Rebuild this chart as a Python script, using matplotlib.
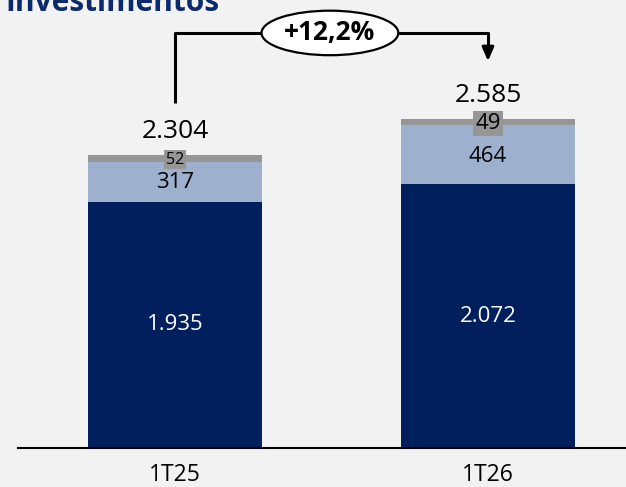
import matplotlib
matplotlib.use("Agg")
import matplotlib.pyplot as plt
from matplotlib.patches import Ellipse
import numpy as np

plt.rcParams['font.family'] = ['Open Sans', 'DejaVu Sans']

# dados (R$ milhões)
periodos = ['1T25', '1T26']
base = [1935, 2072]        # parcela principal (azul escuro)
meio = [317, 464]          # parcela azul claro
topo = [52, 49]            # parcela cinza
totais = [2304, 2585]
variacao = '+12,2%'

fundo = '#f2f2f2'
azul_escuro = '#001f5c'
azul_claro = '#9db0ce'
cinza = '#969696'

fig = plt.figure(figsize=(6.26, 4.87), dpi=100, facecolor=fundo)
ax = fig.add_axes([18/626, 39/487, 608/626, 448/487])
ax.set_facecolor(fundo)

x = np.arange(len(periodos))
larg = 0.556
b = np.array(base)
m = np.array(meio)
t = np.array(topo)
ax.bar(x, b, larg, color=azul_escuro, zorder=2)
ax.bar(x, m, larg, bottom=b, color=azul_claro, zorder=2)
ax.bar(x, t, larg, bottom=b + m, color=cinza, zorder=2)

ax.set_xlim(-0.5016, 1.441)
ax.set_ylim(0, 3522)

# rótulos
for i in range(len(x)):
    ax.text(x[i], b[i] / 2, f"{base[i]/1000:.3f}", ha='center', va='center',
            color='white', fontsize=16)
    ax.text(x[i], b[i] + m[i] / 2 - 10, str(meio[i]), ha='center', va='center',
            color='black', fontsize=16)
    ax.text(x[i], totais[i] + 185, f"{totais[i]/1000:.3f}", ha='center', va='center',
            color='black', fontsize=19)
fs_topo = [11.5, 16]
for i in range(len(x)):
    ax.text(x[i], b[i] + m[i] + t[i] / 2 - 10, str(topo[i]), ha='center', va='center',
            color='black', fontsize=fs_topo[i],
            bbox=dict(boxstyle='square,pad=0.1', fc=cinza, ec='none'), zorder=3)

# seta de variação
y_lin = 3263
ax.plot([0, 0, 0.28], [2712, y_lin, y_lin], color='black', lw=2.2, solid_capstyle='butt')
ax.plot([0.71, 1.0, 1.0], [y_lin, y_lin, 3110], color='black', lw=2.2, solid_capstyle='butt')
ax.annotate('', xy=(1.0, 3020), xytext=(1.0, 3140),
            arrowprops=dict(arrowstyle='-|>,head_width=0.35,head_length=0.8',
                            color='black', lw=2.2))
ax.add_patch(Ellipse((0.495, y_lin), 0.437, 350, facecolor='white',
                     edgecolor='black', lw=1.6, zorder=4))
ax.text(0.495, y_lin, variacao, ha='center', va='center', fontsize=19,
        fontweight='bold', zorder=5)

# eixo
for s in ['top', 'right', 'left']:
    ax.spines[s].set_visible(False)
ax.spines['bottom'].set_linewidth(1.5)
ax.set_yticks([])
ax.set_xticks(x)
ax.set_xticklabels(periodos, fontsize=16.5)
ax.tick_params(axis='x', length=0, pad=11)

fig.text(5/626, 476/487, 'Investimentos', fontsize=21.5, fontweight='bold',
         color='#0b2a6b', ha='left', va='baseline')

fig.savefig('out.png', dpi=100, facecolor=fundo)
